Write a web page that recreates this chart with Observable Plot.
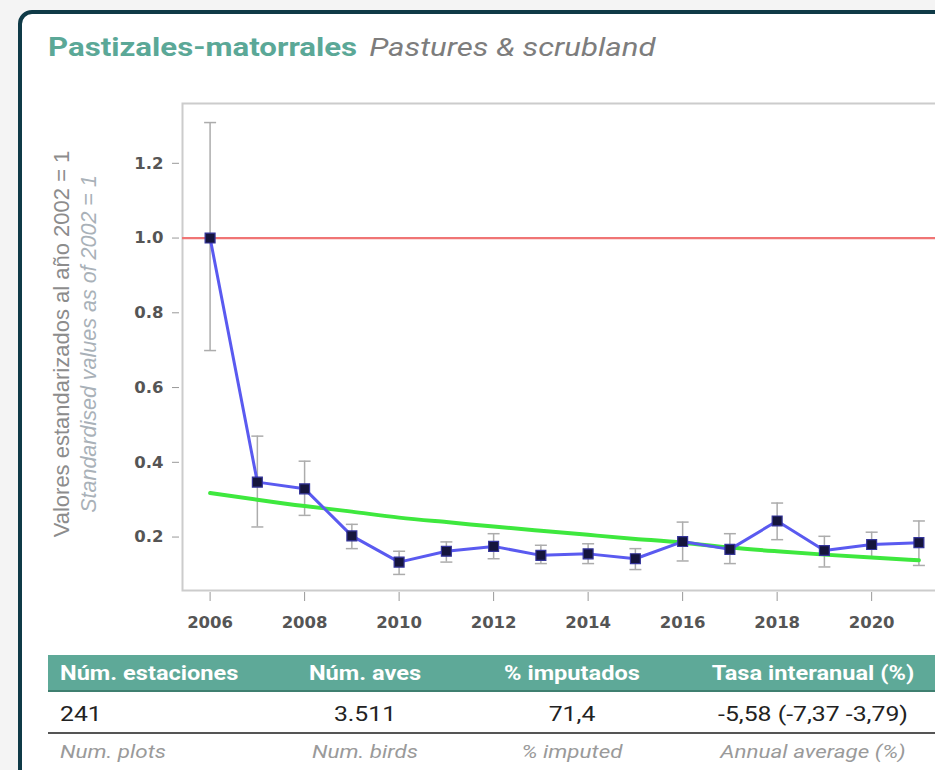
<!DOCTYPE html>
<html>
<head>
<meta charset="utf-8">
<script src="https://cdn.jsdelivr.net/npm/d3@7"></script>
<script src="https://cdn.jsdelivr.net/npm/@observablehq/plot@0.6"></script>
<style>
  html, body { margin: 0; padding: 0; }
  body { width: 935px; height: 770px; overflow: hidden; position: relative; background: #f4f4f4; font-family: Roboto, "Liberation Sans", sans-serif; }
  .card { position: absolute; left: 18px; top: 10px; width: 1000px; height: 900px; border: 4px solid #0f3a47; border-radius: 14px; background: #fff; box-sizing: border-box; }
  .title { position: absolute; left: 48px; top: 32px; font-size: 26px; white-space: nowrap; transform: scale(1.2, 1); transform-origin: 0 0; }
  .title .es { color: #5ba897; font-weight: bold; }
  .title .en { color: #7d7d7d; font-style: italic; margin-left: 10px; }
  #chart { position: absolute; left: 0; top: 90px; }
  #chart svg { max-width: none; }
  .tbl { position: absolute; left: 48px; top: 655px; width: 920px; }
  .hdr { height: 35px; background: #5ea998; border-bottom: 2px solid #3f7f70; position: relative; }
  .row { height: 40px; position: relative; border-bottom: 2px solid #555; }
  .row2 { height: 34px; position: relative; }
  .cell { position: absolute; top: 50%; transform: translate(-50%, -50%) scale(1.18, 1); white-space: nowrap; }
  .cell.first { transform: translate(0, -50%) scale(1.18, 1); transform-origin: 0 50%; }
  .hdr .cell { color: #fff; font-weight: bold; font-size: 20px; }
  .row .cell { color: #222; font-size: 21px; margin-top: 2px; }
  .row2 .cell { color: #9a9a9a; font-style: italic; font-size: 19px; }
</style>
</head>
<body>
<div class="card"></div>
<div class="title"><span class="es">Pastizales-matorrales</span><span class="en">Pastures &amp; scrubland</span></div>
<div id="chart"></div>
<div class="tbl">
  <div class="hdr" id="hdr"></div>
  <div class="row" id="row"></div>
  <div class="row2" id="row2"></div>
</div>
<script>
// ---- data ----
const years   = [2006, 2007, 2008, 2009, 2010, 2011, 2012, 2013, 2014, 2015, 2016, 2017, 2018, 2019, 2020, 2021];
const index   = [1.000, 0.347, 0.329, 0.203, 0.133, 0.162, 0.175, 0.151, 0.155, 0.142, 0.188, 0.167, 0.243, 0.164, 0.180, 0.185];
const lower   = [0.699, 0.227, 0.258, 0.169, 0.100, 0.133, 0.142, 0.129, 0.129, 0.113, 0.136, 0.129, 0.193, 0.120, 0.146, 0.124];
const upper   = [1.309, 0.470, 0.403, 0.234, 0.162, 0.187, 0.209, 0.178, 0.182, 0.169, 0.240, 0.209, 0.291, 0.202, 0.213, 0.243];
const trend   = [0.318, 0.300, 0.283, 0.268, 0.252, 0.240, 0.228, 0.217, 0.206, 0.195, 0.185, 0.172, 0.162, 0.153, 0.145, 0.138];
const baseline = 1.0;
const yTicks  = [0.2, 0.4, 0.6, 0.8, 1.0, 1.2];
const xTicks  = [2006, 2008, 2010, 2012, 2014, 2016, 2018, 2020];
const yLabelEs = "Valores estandarizados al año 2002 = 1";
const yLabelEn = "Standardised values as of 2002 = 1";

const headers  = ["Núm. estaciones", "Núm. aves", "% imputados", "Tasa interanual (%)"];
const values   = ["241", "3.511", "71,4", "-5,58 (-7,37  -3,79)"];
const subHeads = ["Num. plots", "Num. birds", "% imputed", "Annual average (%)"];

const rows = years.map((year, i) => ({year, value: index[i], lo: lower[i], hi: upper[i], trend: trend[i]}));

// horizontal cap symbol for the error bars
const capSymbol = {draw(ctx, size) { const r = Math.sqrt(size / Math.PI); ctx.moveTo(-r, 0); ctx.lineTo(r, 0); }};

const tickFont = {fontSize: 16.5, fontWeight: "bold", fill: "#555555", fontFamily: "DejaVu Sans, sans-serif"};
const labelFont = "Liberation Sans, Arial, sans-serif";

const chart = Plot.plot({
  width: 960,
  height: 545,
  marginLeft: 182,
  marginRight: 14,
  marginTop: 13,
  marginBottom: 45,
  x: {domain: [2005.416, 2021.584]},
  y: {domain: [0.057, 1.360]},
  style: {background: "transparent", fontFamily: labelFont, maxWidth: "none"},
  marks: [
    Plot.frame({stroke: "#cccccc", strokeWidth: 2}),
    Plot.axisY(yTicks, {tickSize: 7, tickPadding: 9, dx: -3, stroke: "#999", tickFormat: d3.format(".1f"), ...tickFont, label: null}),
    Plot.axisX(xTicks, {tickSize: 9, dy: 2, text: null, stroke: "#999", label: null}),
    Plot.axisX(xTicks, {tickSize: 0, tickPadding: 26, tickFormat: d => String(d), ...tickFont, label: null}),
    Plot.text([yLabelEs], {frameAnchor: "left", textAnchor: "middle", rotate: -90, dx: -121, dy: -3, fontSize: 22, fill: "#8c8c8c", fontFamily: labelFont}),
    Plot.text([yLabelEn], {frameAnchor: "left", textAnchor: "middle", rotate: -90, dx: -93, dy: -3, fontSize: 21.5, fill: "#a9b1b8", fontStyle: "italic", fontFamily: labelFont}),
    Plot.ruleY([baseline], {stroke: "#f07575", strokeWidth: 2.2}),
    Plot.ruleX(rows, {x: "year", y1: "lo", y2: "hi", stroke: "#acacac", strokeWidth: 1.5}),
    Plot.dot(rows, {x: "year", y: "lo", symbol: capSymbol, r: 6, stroke: "#acacac", strokeWidth: 1.5, fill: "none"}),
    Plot.dot(rows, {x: "year", y: "hi", symbol: capSymbol, r: 6, stroke: "#acacac", strokeWidth: 1.5, fill: "none"}),
    Plot.line(rows, {x: "year", y: "trend", stroke: "#3ee83e", strokeWidth: 4, curve: "natural"}),
    Plot.line(rows, {x: "year", y: "value", stroke: "#5a5af0", strokeWidth: 3}),
    Plot.dot(rows, {x: "year", y: "value", symbol: "square", r: 5.6, fill: "#15153d", stroke: "#34349a", strokeWidth: 1.2})
  ]
});
document.getElementById("chart").appendChild(chart);

// table
const centers = [12, 317, 524, 765];
function fillRow(id, texts) {
  const el = document.getElementById(id);
  texts.forEach((t, i) => {
    const d = document.createElement("div");
    d.className = "cell" + (i === 0 ? " first" : "");
    d.style.left = centers[i] + "px";
    d.textContent = t;
    el.appendChild(d);
  });
}
fillRow("hdr", headers);
fillRow("row", values);
fillRow("row2", subHeads);
</script>
</body>
</html>
